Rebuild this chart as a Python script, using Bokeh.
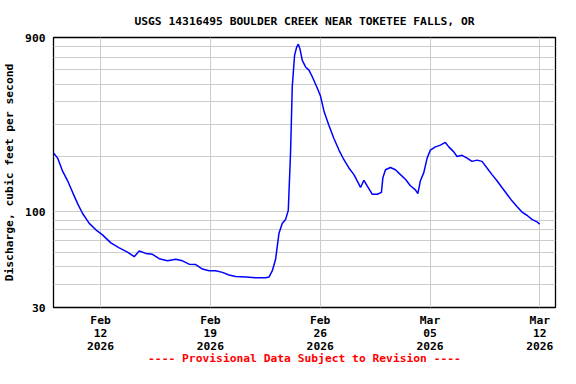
import pandas as pd
from bokeh.plotting import figure
from bokeh.models import FixedTicker, Range1d, ColumnDataSource, PrintfTickFormatter
from bokeh.embed import file_html
from bokeh.resources import INLINE

# ---- data ----
times = [
    "2026-02-09 00:00", "2026-02-09 06:18", "2026-02-09 13:54", "2026-02-09 21:36",
    "2026-02-10 05:12", "2026-02-10 12:54", "2026-02-10 20:30", "2026-02-11 06:42",
    "2026-02-11 16:48", "2026-02-12 03:00", "2026-02-12 15:42", "2026-02-13 04:36",
    "2026-02-13 17:12", "2026-02-14 03:30", "2026-02-14 11:06", "2026-02-14 21:12",
    "2026-02-15 07:24", "2026-02-15 17:42", "2026-02-16 06:24", "2026-02-16 19:00",
    "2026-02-17 05:18", "2026-02-17 15:30", "2026-02-18 01:36", "2026-02-18 11:48",
    "2026-02-18 22:06", "2026-02-19 08:06", "2026-02-19 18:24", "2026-02-20 04:36",
    "2026-02-20 14:42", "2026-02-21 06:00", "2026-02-21 21:18", "2026-02-22 12:30",
    "2026-02-22 17:42", "2026-02-22 22:48", "2026-02-23 03:48", "2026-02-23 09:00",
    "2026-02-23 14:00", "2026-02-23 19:06", "2026-02-23 23:12", "2026-02-24 02:42",
    "2026-02-24 05:18", "2026-02-24 08:48", "2026-02-24 11:54", "2026-02-24 14:30",
    "2026-02-24 17:06", "2026-02-24 20:36", "2026-02-25 01:36", "2026-02-25 06:48",
    "2026-02-25 11:54", "2026-02-25 19:30", "2026-02-26 00:36", "2026-02-26 05:42",
    "2026-02-26 13:24", "2026-02-26 21:00", "2026-02-27 04:42", "2026-02-27 12:18",
    "2026-02-27 19:54", "2026-02-28 03:36", "2026-02-28 11:12", "2026-02-28 13:42",
    "2026-02-28 18:54", "2026-02-28 23:54", "2026-03-01 07:30", "2026-03-01 15:12",
    "2026-03-01 21:42", "2026-03-01 23:54", "2026-03-02 03:54", "2026-03-02 11:30",
    "2026-03-02 19:06", "2026-03-03 02:48", "2026-03-03 10:24", "2026-03-03 18:00",
    "2026-03-04 01:42", "2026-03-04 05:24", "2026-03-04 09:18", "2026-03-04 14:30",
    "2026-03-04 19:36", "2026-03-05 00:36", "2026-03-05 08:12", "2026-03-05 15:54",
    "2026-03-05 23:30", "2026-03-06 04:42", "2026-03-06 12:24", "2026-03-06 17:24",
    "2026-03-07 01:00", "2026-03-07 08:42", "2026-03-07 16:18", "2026-03-07 23:54",
    "2026-03-08 07:36", "2026-03-08 15:12", "2026-03-08 22:54", "2026-03-09 06:30",
    "2026-03-09 14:06", "2026-03-09 21:48", "2026-03-10 05:24", "2026-03-10 13:00",
    "2026-03-10 20:42", "2026-03-11 04:18", "2026-03-11 12:00", "2026-03-11 19:36",
    "2026-03-11 23:42",
]
discharge = [
    210, 197, 167, 148,
    128, 111, 98, 86.6,
    79.8, 74.9, 67.7, 63.6,
    60.3, 56.9, 61.1, 59.3,
    58.6, 55.5, 54, 55.1,
    54, 51.8, 51.5, 48.7,
    47.7, 47.7, 46.7, 45.2,
    44.3, 44, 43.6, 43.6,
    44, 47.7, 55.1, 76.5,
    86.6, 91, 102, 213,
    485, 718, 795, 828,
    778, 675, 621, 597,
    549, 476, 429, 357,
    297, 252, 218, 193,
    174, 160, 142, 136,
    149, 139, 125, 125,
    128, 154, 170, 175,
    170, 160, 151, 139,
    132, 126, 148, 164,
    197, 218, 227, 232,
    240, 227, 213, 201,
    204, 197, 189, 192,
    189, 174, 160, 148,
    136, 125, 115, 107,
    99.9, 95.9, 91, 88.3,
    85.8,
]
x_start = "2026-02-09 00:00"
x_end = "2026-03-13 00:00"
tick_dates = ["2026-02-12", "2026-02-19", "2026-02-26", "2026-03-05", "2026-03-12"]
tick_labels = ["Feb\n12\n2026", "Feb\n19\n2026", "Feb\n26\n2026", "Mar\n05\n2026", "Mar\n12\n2026"]
y_tick_values = [30, 100, 900]
y_grid_values = [40, 50, 60, 70, 80, 90, 100, 200, 300, 400, 500, 600, 700, 800, 900]
title_text = "USGS 14316495 BOULDER CREEK NEAR TOKETEE FALLS, OR"
y_label = "Discharge, cubic feet per second"
footer_text = "---- Provisional Data Subject to Revision ----"


def to_ms(vals):
    return [float(v) for v in (pd.to_datetime(vals).astype("int64") / 1e6)]


x_ms = to_ms(times)
tick_ms = to_ms(tick_dates)
start_ms, end_ms = to_ms([x_start, x_end])

FONT = "DejaVu Sans Mono"
FS = "11.3px"

src = ColumnDataSource(dict(x=x_ms, y=discharge))

p = figure(
    width=560, height=368,
    x_range=Range1d(start_ms, end_ms),
    y_range=Range1d(30, 900),
    y_axis_type="log",
    output_backend="svg",
    toolbar_location=None,
    min_border_left=52, min_border_right=5,
    min_border_top=37, min_border_bottom=50,
)
p.background_fill_color = "white"
p.border_fill_color = "white"
p.outline_line_color = "black"
p.outline_line_width = 1.3

p.line("x", "y", source=src, color="#0000ff", line_width=1.5)

# title
p.title.text = title_text
p.title.align = "center"
p.title.text_font = FONT
p.title.text_font_style = "bold"
p.title.text_font_size = FS
p.title.text_color = "black"
p.title.standoff = 20

# axes
p.xaxis.ticker = FixedTicker(ticks=tick_ms, minor_ticks=[])
p.xaxis.major_label_overrides = dict(zip(tick_ms, tick_labels))
p.yaxis.ticker = FixedTicker(ticks=y_tick_values, minor_ticks=[])
p.yaxis.formatter = PrintfTickFormatter(format="%d")
p.ygrid.ticker = FixedTicker(ticks=y_grid_values, minor_ticks=[])

for ax in (p.xaxis[0], p.yaxis[0]):
    ax.axis_line_color = None
    ax.major_tick_line_color = None
    ax.minor_tick_line_color = None
    ax.major_label_text_font = FONT
    ax.major_label_text_font_style = "bold"
    ax.major_label_text_font_size = FS
    ax.major_label_text_color = "black"
    ax.axis_label_text_font = FONT
    ax.axis_label_text_font_style = "bold"
    ax.axis_label_text_font_size = FS

p.xaxis.major_label_standoff = 0
p.xaxis.major_label_text_line_height = 1.03
p.xaxis.axis_label = footer_text
p.xaxis.axis_label_text_color = "#ff0000"
p.xaxis.axis_label_standoff = -4

p.yaxis.major_label_standoff = 2
p.yaxis.axis_label = y_label
p.yaxis.axis_label_text_color = "black"
p.yaxis.axis_label_standoff = 6

p.grid.grid_line_color = "#cccccc"
p.grid.grid_line_width = 1

open("out.html", "w").write(file_html(p, INLINE))
